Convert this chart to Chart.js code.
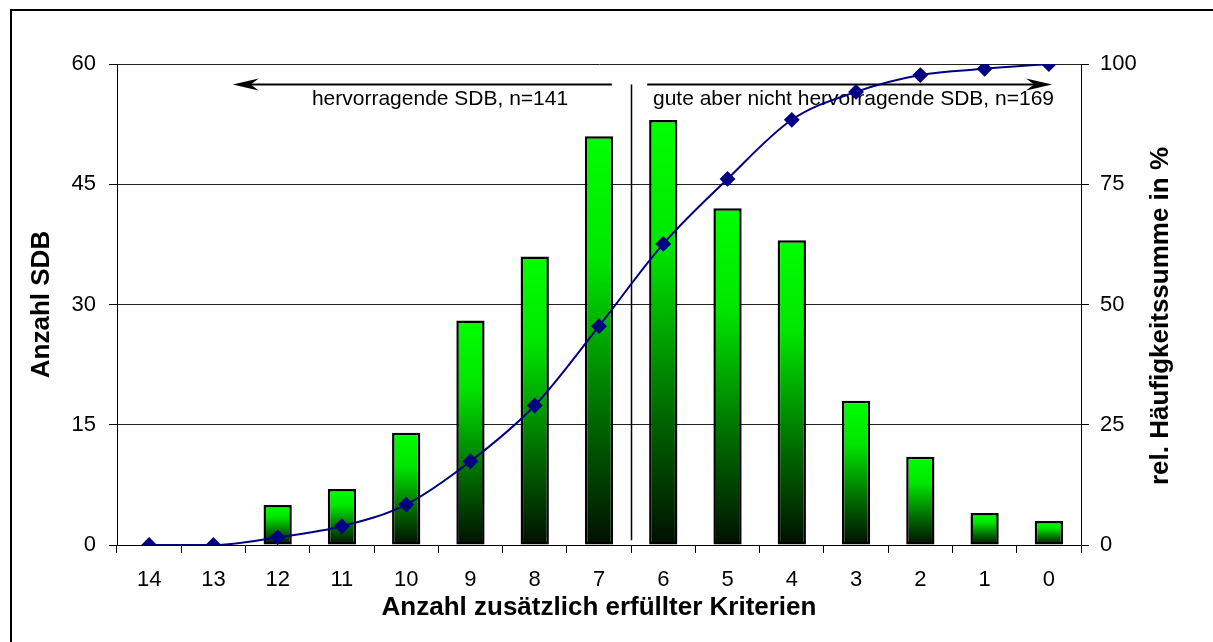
<!DOCTYPE html>
<html>
<head>
<meta charset="utf-8">
<script src="https://cdn.jsdelivr.net/npm/chart.js@4/dist/chart.umd.min.js"></script>
<style>
  html, body { margin: 0; padding: 0; background: #fff; }
  #wrap { position: relative; width: 1213px; height: 642px; }
  #rahmen { position: absolute; left: 10px; top: 9px; width: 1220px; height: 660px; border: 2px solid #000; box-sizing: border-box; }
  canvas { position: absolute; left: 0; top: 0; }
</style>
</head>
<body>
<div id="wrap">
  <div id="rahmen"></div>
  <canvas id="grafico" width="1213" height="642"></canvas>
</div>
<script>
// Daten
const kriterien = ['14', '13', '12', '11', '10', '9', '8', '7', '6', '5', '4', '3', '2', '1', '0'];
const anzahlSDB = [0, 0, 5, 7, 14, 28, 36, 51, 53, 42, 38, 18, 11, 4, 3];
const haeufigkeitssumme = [0, 0, 1.6, 3.9, 8.4, 17.4, 29.0, 45.5, 62.6, 76.1, 88.4, 94.2, 97.7, 99.0, 100];
const ticksLinks = [0, 15, 30, 45, 60];
const ticksRechts = [0, 25, 50, 75, 100];
const textLinks = 'hervorragende SDB, n=141';
const textRechts = 'gute aber nicht hervorragende SDB, n=169';
const titelRechts = 'rel. Häufigkeitssumme in %';

const schrift = "'Liberation Sans', Arial, sans-serif";

function verlauf(ctx) {
    const chart = ctx.chart;
    const y = chart.scales.y;
    if (!y || !chart.chartArea || ctx.type !== 'data') return '#00ff00';
    const v = anzahlSDB[ctx.dataIndex];
    const oben = y.getPixelForValue(v);
    const unten = y.getPixelForValue(0);
    if (!isFinite(oben) || unten - oben < 1) return '#00ff00';
    const g = chart.ctx.createLinearGradient(0, oben, 0, unten);
    g.addColorStop(0, '#00ff00');
    g.addColorStop(0.3, '#00e600');
    g.addColorStop(0.7, '#006600');
    g.addColorStop(1, '#001000');
    return g;
}

// Pfeile, Trennlinie und Texte
const anmerkungen = {
    id: 'anmerkungen',
    beforeDatasetsDraw(chart) {
        const c = chart.ctx;
        const x = chart.scales.x;
        const y = chart.scales.y;
        const trennX = Math.round((x.getPixelForValue(7) + x.getPixelForValue(8)) / 2) + 0.5;
        const pfeilY = Math.round(y.getPixelForValue(57.5)) + 0.5;
        c.save();
        c.strokeStyle = '#000';
        c.fillStyle = '#000';
        c.lineWidth = 1.5;
        // Trennlinie
        c.beginPath();
        c.moveTo(trennX, pfeilY);
        c.lineTo(trennX, y.getPixelForValue(0.6));
        c.stroke();
        // linker Pfeil
        const l1 = x.getPixelForValue(7.2), l2 = x.getPixelForValue(1.3);
        c.lineWidth = 2;
        c.beginPath();
        c.moveTo(l1, pfeilY);
        c.lineTo(l2 + 8, pfeilY);
        c.stroke();
        c.beginPath();
        c.moveTo(l2, pfeilY);
        c.lineTo(l2 + 26, pfeilY - 6);
        c.lineTo(l2 + 18, pfeilY);
        c.lineTo(l2 + 26, pfeilY + 6);
        c.closePath();
        c.fill();
        // rechter Pfeil
        const r1 = x.getPixelForValue(7.75), r2 = x.getPixelForValue(14.05);
        c.beginPath();
        c.moveTo(r1, pfeilY);
        c.lineTo(r2 - 8, pfeilY);
        c.stroke();
        c.beginPath();
        c.moveTo(r2, pfeilY);
        c.lineTo(r2 - 26, pfeilY - 6);
        c.lineTo(r2 - 18, pfeilY);
        c.lineTo(r2 - 26, pfeilY + 6);
        c.closePath();
        c.fill();
        // Texte
        c.font = '21px ' + schrift;
        c.textBaseline = 'middle';
        const textY = pfeilY + 15;
        c.textAlign = 'right';
        c.fillText(textLinks, x.getPixelForValue(6.52), textY);
        c.textAlign = 'left';
        c.fillText(textRechts, x.getPixelForValue(7.84), textY);
        c.restore();
    },
    afterDraw(chart) {
        // rechter Achsentitel, von unten nach oben gelesen
        const c = chart.ctx;
        c.save();
        c.translate(1161, 316);
        c.rotate(-Math.PI / 2);
        c.font = 'bold 26px ' + schrift;
        c.fillStyle = '#000';
        c.textAlign = 'center';
        c.textBaseline = 'middle';
        c.fillText(titelRechts, 0, 0);
        c.restore();
    }
};

new Chart(document.getElementById('grafico'), {
    data: {
        labels: kriterien,
        datasets: [
            {
                type: 'line',
                label: 'rel. Häufigkeitssumme',
                data: haeufigkeitssumme,
                yAxisID: 'y1',
                borderColor: '#000080',
                backgroundColor: '#000080',
                borderWidth: 2,
                cubicInterpolationMode: 'monotone',
                pointStyle: 'rectRot',
                pointRadius: 6.5,
                pointHoverRadius: 6.5,
                order: 0
            },
            {
                type: 'bar',
                label: 'Anzahl SDB',
                data: anzahlSDB,
                yAxisID: 'y',
                backgroundColor: verlauf,
                borderColor: '#000',
                borderWidth: 2.5,
                borderSkipped: false,
                barPercentage: 0.44,
                categoryPercentage: 1,
                order: 1
            }
        ]
    },
    options: {
        responsive: false,
        animation: false,
        layout: { padding: { top: 64, left: 0, right: 0, bottom: 0 } },
        plugins: {
            legend: { display: false },
            tooltip: { enabled: false }
        },
        scales: {
            x: {
                offset: true,
                grid: { offset: true, drawOnChartArea: false, tickLength: 8, color: '#000', tickColor: '#000' },
                border: { color: '#000', width: 1 },
                ticks: { color: '#000', font: { family: schrift, size: 22 }, padding: 14, maxRotation: 0, autoSkip: false },
                title: { display: true, text: 'Anzahl zusätzlich erfüllter Kriterien', color: '#000', font: { family: schrift, size: 26, weight: 'bold' }, padding: { top: 0, bottom: 19 } },
                afterFit(s) { s.height = 97; }
            },
            y: {
                position: 'left',
                min: 0,
                max: 60,
                afterBuildTicks(s) { s.ticks = ticksLinks.map(v => ({ value: v })); },
                grid: { color: '#222', tickColor: '#000', tickLength: 8, lineWidth: 1 },
                border: { color: '#000', width: 1 },
                ticks: { color: '#000', font: { family: schrift, size: 22 }, padding: 13 },
                title: { display: true, text: 'Anzahl SDB', color: '#000', font: { family: schrift, size: 26, weight: 'bold' }, padding: { top: 26, bottom: 0 } },
                afterFit(s) { s.width = 117; }
            },
            y1: {
                position: 'right',
                min: 0,
                max: 100,
                afterBuildTicks(s) { s.ticks = ticksRechts.map(v => ({ value: v })); },
                grid: { drawOnChartArea: false, color: '#000', tickColor: '#000', tickLength: 8 },
                border: { color: '#000', width: 1 },
                ticks: { color: '#000', font: { family: schrift, size: 22 }, padding: 11 },
                afterFit(s) { s.width = 132; }
            }
        }
    },
    plugins: [anmerkungen]
});
</script>
</body>
</html>
